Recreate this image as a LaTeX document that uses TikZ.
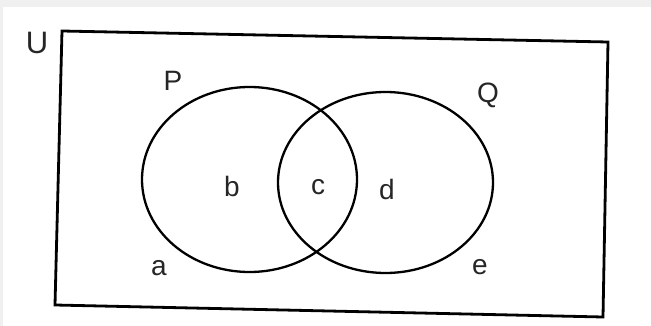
\documentclass[tikz,border=0pt]{standalone}
\usepackage{fontspec}
\setmainfont{Liberation Sans}
\usetikzlibrary{shapes.geometric}
\begin{document}
\begin{tikzpicture}[x=1pt,y=-1pt,
  frame/.style={line width=2.8pt,line join=miter},
  setline/.style={line width=2.3pt},
  lbl/.style={font=\fontsize{28}{28}\selectfont,inner sep=0pt,text=black!85},
]
\useasboundingbox (0,0) rectangle (651,326);
\fill[white] (0,0) rectangle (651,326);
\fill[black!6] (0,0) rectangle (651,7);
\fill[black!6] (0,0) rectangle (3,326);
% universal set frame
\coordinate (tl) at (62,31);
\coordinate (tr) at (608,42);
\coordinate (br) at (603,317);
\coordinate (bl) at (55,305);
\draw[frame] (tl) -- (tr) -- (br) -- (bl) -- cycle;
% sets
\node[setline,draw,ellipse,minimum width=215pt,minimum height=185pt,inner sep=0pt] (P) at (249.5,179.5) {};
\node[setline,draw,ellipse,minimum width=215pt,minimum height=181pt,inner sep=0pt] (Q) at (385.5,182.5) {};
% labels
\node[lbl,font=\fontsize{31}{31}\selectfont] (U) at (37,43) {U};
\node[lbl] (lP) at (173,81) {P};
\node[lbl] (lQ) at (488,95) {Q};
\node[lbl] (la) at (159,268) {a};
\node[lbl] (lb) at (232,186) {b};
\node[lbl] (lc) at (318,187) {c};
\node[lbl] (ld) at (387,189) {d};
\node[lbl] (le) at (480,267) {e};
\end{tikzpicture}
\end{document}
